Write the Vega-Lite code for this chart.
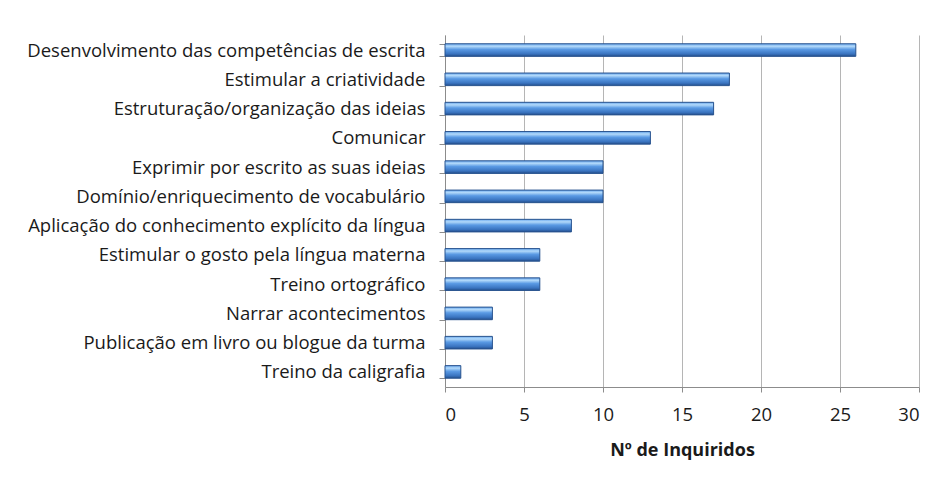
{
  "$schema": "https://vega.github.io/schema/vega-lite/v6.json",
  "width": 474,
  "height": 352,
  "autosize": {"type": "none"},
  "padding": {"left": 445, "top": 35, "right": 23, "bottom": 91},
  "background": "white",
  "data": {
    "values": [
      {"categoria": "Desenvolvimento das competências de escrita", "inquiridos": 26},
      {"categoria": "Estimular a criatividade", "inquiridos": 18},
      {"categoria": "Estruturação/organização das ideias", "inquiridos": 17},
      {"categoria": "Comunicar", "inquiridos": 13},
      {"categoria": "Exprimir por escrito as suas ideias", "inquiridos": 10},
      {"categoria": "Domínio/enriquecimento de vocabulário", "inquiridos": 10},
      {"categoria": "Aplicação do conhecimento explícito da língua", "inquiridos": 8},
      {"categoria": "Estimular o gosto pela língua materna", "inquiridos": 6},
      {"categoria": "Treino ortográfico", "inquiridos": 6},
      {"categoria": "Narrar acontecimentos", "inquiridos": 3},
      {"categoria": "Publicação em livro ou blogue da turma", "inquiridos": 3},
      {"categoria": "Treino da caligrafia", "inquiridos": 1}
    ]
  },
  "mark": {
    "type": "bar",
    "stroke": "#27528e",
    "strokeWidth": 1,
    "color": {
      "gradient": "linear",
      "x1": 0, "y1": 0, "x2": 0, "y2": 1,
      "stops": [
        {"offset": 0, "color": "#6aa8ee"},
        {"offset": 0.2, "color": "#b2d9fa"},
        {"offset": 0.45, "color": "#5a9ae4"},
        {"offset": 0.8, "color": "#3a74c0"},
        {"offset": 1, "color": "#244f8c"}
      ]
    }
  },
  "encoding": {
    "y": {
      "field": "categoria",
      "type": "nominal",
      "sort": null,
      "scale": {"paddingInner": 0.57, "paddingOuter": 0.3},
      "axis": {
        "title": null,
        "labelLimit": 600,
        "labelFont": "Open Sans",
        "labelFontSize": 18.5,
        "labelColor": "#1a1a1a",
        "labelPadding": 14,
        "tickSize": 6,
        "tickColor": "#8c8c8c",
        "tickBand": "extent",
        "domainColor": "#8c8c8c",
        "grid": false
      }
    },
    "x": {
      "field": "inquiridos",
      "type": "quantitative",
      "scale": {"domain": [0, 30], "nice": false},
      "axis": {
        "title": "Nº de Inquiridos",
        "titleFont": "Open Sans",
        "titleFontSize": 18,
        "titleFontWeight": "bold",
        "titleColor": "#1a1a1a",
        "titlePadding": 18,
        "values": [0, 5, 10, 15, 20, 25, 30],
        "labelFont": "Open Sans",
        "labelFontSize": 18.5,
        "labelColor": "#1a1a1a",
        "labelPadding": 13,
        "tickSize": 5,
        "tickColor": "#8c8c8c",
        "domainColor": "#8c8c8c",
        "grid": true,
        "gridColor": "#b5b5b5",
        "gridWidth": 1
      }
    }
  },
  "config": {
    "view": {"stroke": null}
  }
}
